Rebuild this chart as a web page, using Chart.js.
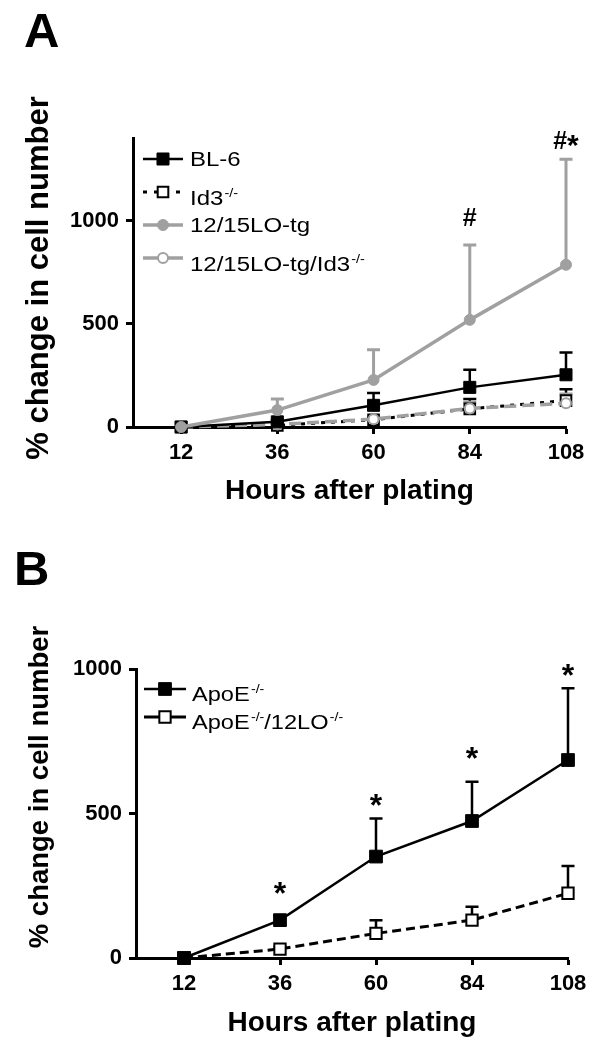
<!DOCTYPE html>
<html><head><meta charset="utf-8">
<script src="https://cdn.jsdelivr.net/npm/chart.js@4.4.1/dist/chart.umd.min.js"></script>
<style>
html,body{margin:0;padding:0;background:#fff;}
#wrap{position:relative;width:607px;height:1050px;overflow:hidden;background:#fff;}
canvas{position:absolute;left:0;}
#cA{top:0}
#cB{top:525px}
.lbl{position:absolute;font:bold 49px "Liberation Sans",Arial,sans-serif;line-height:49px;color:#000;}
</style></head><body>
<div id="wrap">
<canvas id="cA" width="607" height="525"></canvas>
<canvas id="cB" width="607" height="525"></canvas>
<div class="lbl" style="left:24px;top:6px">A</div>
<div class="lbl" style="left:14px;top:544px">B</div>
</div>
<script>
// ---------- data ----------
const hours = [12, 36, 60, 84, 108];
const yTicksA = [0, 500, 1000];
const yTicksB = [0, 500, 1000];

// Panel A
const namesA = ['BL-6', 'Id3<sup>-/-</sup>', '12/15LO-tg', '12/15LO-tg/Id3<sup>-/-</sup>'];
const bl6        = [0, 25, 105, 192, 253];
const bl6Err     = [0, 10, 60, 85, 108];
const id3        = [0, 8, 35, 88, 128];
const id3Err     = [0, 5, 12, 48, 55];
const loTg       = [0, 82, 228, 519, 786];
const loTgErr    = [0, 54, 146, 363, 511];
const loTgId3    = [0, 12, 38, 90, 115];
const loTgId3Err = [0, 5, 10, 30, 45];
const marksA     = ['', '', '', '#', '#*'];
const markLevelA = [null, null, null, 1018, 1391];

// Panel B
const namesB = ['ApoE<sup>-/-</sup>', 'ApoE<sup>-/-</sup>/12LO<sup>-/-</sup>'];
const apoE      = [0, 131, 351, 474, 685];
const apoEErr   = [0, 15, 132, 136, 248];
const apoE12    = [0, 31, 85, 131, 224];
const apoE12Err = [0, 8, 46, 46, 94];
const marksB     = ['', '*', '*', '*', '*'];
const markLevelB = [null, 246, 550, 713, 1000];

// ---------- helpers ----------
const FONT = '"Liberation Sans", Arial, Helvetica, sans-serif';
const GREY = '#a0a0a0';
const pts = arr => arr.map((v, i) => ({x: hours[i], y: v}));

function drawMarker(ctx, ds, x, y) {
  ctx.save();
  ctx.setLineDash([]);
  ctx.lineWidth = ds.pointBorderWidth;
  ctx.strokeStyle = ds.pointBorderColor;
  ctx.fillStyle = ds.pointBackgroundColor;
  const r = ds.pointRadius;
  ctx.beginPath();
  if (ds.pointStyle === 'rect') { const s = r * Math.SQRT1_2; ctx.rect(x - s, y - s, 2 * s, 2 * s); }
  else ctx.arc(x, y, r, 0, Math.PI * 2);
  ctx.fill(); ctx.stroke();
  ctx.restore();
}

function drawRich(ctx, text, x, y, size, stretch) {
  const parts = text.split(/(<sup>.*?<\/sup>)/).filter(Boolean);
  ctx.save();
  ctx.translate(x, y); ctx.scale(stretch, 1);
  ctx.fillStyle = '#000'; ctx.textBaseline = 'alphabetic'; ctx.textAlign = 'left';
  let cx = 0;
  parts.forEach(p => {
    const m = p.match(/^<sup>(.*)<\/sup>$/);
    if (m) {
      ctx.font = Math.round(size * 0.6) + 'px ' + FONT;
      ctx.fillText(m[1], cx + 1, -size * 0.42);
      cx += ctx.measureText(m[1]).width + 1;
    } else {
      ctx.font = size + 'px ' + FONT;
      ctx.fillText(p, cx, 0);
      cx += ctx.measureText(p).width;
    }
  });
  ctx.restore();
}

const errorBars = {
  id: 'errorBars',
  beforeDatasetsDraw(chart) {
    const {ctx, scales: {x, y}} = chart;
    chart.data.datasets.forEach(ds => {
      if (!ds.err) return;
      ctx.save();
      ctx.strokeStyle = ds.borderColor; ctx.lineWidth = ds.errWidth || 2.5; ctx.setLineDash([]);
      ds.data.forEach((p, j) => {
        const e = ds.err[j]; if (!e) return;
        const px = x.getPixelForValue(p.x), py = y.getPixelForValue(p.y), pt = y.getPixelForValue(p.y + e);
        ctx.beginPath();
        ctx.moveTo(px, py); ctx.lineTo(px, pt);
        ctx.moveTo(px - 6.5, pt); ctx.lineTo(px + 6.5, pt);
        ctx.stroke();
      });
      ctx.restore();
    });
  }
};

const extras = {
  id: 'extras',
  afterDraw(chart, args, o) {
    const {ctx, scales: {x, y}} = chart;
    // y-axis title
    ctx.save();
    ctx.translate(o.yTitle.cx, o.yTitle.cy); ctx.rotate(-Math.PI / 2);
    ctx.font = 'bold ' + o.yTitle.size + 'px ' + FONT;
    ctx.fillStyle = '#000'; ctx.textAlign = 'center'; ctx.textBaseline = 'middle';
    ctx.fillText(o.yTitle.text, 0, 0);
    ctx.restore();
    // significance marks
    o.marks.forEach((m, i) => {
      if (!m) return;
      const cy = y.getPixelForValue(o.levels[i]);
      const cxc = x.getPixelForValue(hours[i]);
      ctx.save();
      ctx.fillStyle = '#000'; ctx.textBaseline = 'alphabetic'; ctx.textAlign = 'left';
      const chars = m.split('');
      const sizes = chars.map(c => c === '*' ? o.starSize : o.hashSize);
      const widths = chars.map((c, k) => { ctx.font = 'bold ' + sizes[k] + 'px ' + FONT; return ctx.measureText(c).width; });
      let total = widths.reduce((a, b) => a + b, 0);
      let cx = cxc - total / 2;
      chars.forEach((c, k) => {
        ctx.font = 'bold ' + sizes[k] + 'px ' + FONT;
        const off = c === '*' ? 0.52 : 0.36;
        ctx.fillText(c, cx, cy + off * sizes[k]);
        cx += widths[k];
      });
      ctx.restore();
    });
    // legend
    const L = o.legend;
    chart.data.datasets.forEach((ds, i) => {
      const ym = L.y0 + L.step * i;
      ctx.save();
      ctx.strokeStyle = ds.borderColor; ctx.lineWidth = ds.borderWidth;
      ctx.setLineDash(ds.legendDash || []);
      ctx.beginPath(); ctx.moveTo(L.x0, ym); ctx.lineTo(L.x1, ym); ctx.stroke();
      ctx.restore();
      drawMarker(ctx, ds, (L.x0 + L.x1) / 2, ym);
      const hasSup = ds.label.indexOf('<sup>') >= 0;
      drawRich(ctx, ds.label, L.tx, ym + 0.358 * L.size + (hasSup ? L.supShift : 0), L.size, L.stretch);
    });
  }
};

function xAxis(scaleHeight, titleBottom) {
  return {
    type: 'linear', min: 0, max: 108,
    afterBuildTicks: s => { s.ticks = hours.map(v => ({value: v})); },
    afterFit: s => { s.height = scaleHeight; },
    grid: {drawOnChartArea: false, drawTicks: true, tickLength: 7, tickWidth: 3, color: '#000'},
    border: {display: true, color: '#000', width: 3},
    ticks: {color: '#000', padding: 6, autoSkip: false, maxRotation: 0, callback: v => String(v),
            font: {family: FONT, size: 22, weight: 'bold'}},
    title: {display: true, text: 'Hours after plating', color: '#000',
            font: {family: FONT, size: 28, weight: 'bold'}, padding: {top: 0, bottom: titleBottom}}
  };
}
function yAxis(max, ticks, width) {
  return {
    type: 'linear', min: 0, max: max,
    afterBuildTicks: s => { s.ticks = ticks.map(v => ({value: v})); },
    afterFit: s => { s.width = width; },
    grid: {drawOnChartArea: false, drawTicks: true, tickLength: 7, tickWidth: 3, color: '#000'},
    border: {display: true, color: '#000', width: 3},
    ticks: {color: '#000', padding: 7, callback: v => String(v),
            font: {family: FONT, size: 22, weight: 'bold'}}
  };
}

Chart.defaults.font.family = FONT;

// ---------- Panel A ----------
new Chart(document.getElementById('cA'), {
  type: 'line',
  data: {datasets: [
    {label: namesA[0], data: pts(bl6), err: bl6Err, borderColor: '#000', borderWidth: 2.5,
     pointStyle: 'rect', pointRadius: 8.5, pointBackgroundColor: '#000', pointBorderColor: '#000', pointBorderWidth: 1, errWidth: 2.5, order: 2},
    {label: namesA[1], data: pts(id3), err: id3Err, borderColor: '#000', borderWidth: 3, borderDash: [4, 6], legendDash: [4, 7],
     pointStyle: 'rect', pointRadius: 7.5, pointBackgroundColor: '#fff', pointBorderColor: '#000', pointBorderWidth: 2, errWidth: 2.5, order: 4},
    {label: namesA[2], data: pts(loTg), err: loTgErr, borderColor: GREY, borderWidth: 3.5,
     pointStyle: 'circle', pointRadius: 5.5, pointBackgroundColor: GREY, pointBorderColor: GREY, pointBorderWidth: 1, errWidth: 3, order: 1},
    {label: namesA[3], data: pts(loTgId3), err: loTgId3Err, borderColor: GREY, borderWidth: 3.5, borderDash: [12, 6],
     pointStyle: 'circle', pointRadius: 5, pointBackgroundColor: '#fff', pointBorderColor: GREY, pointBorderWidth: 2, errWidth: 3, order: 3}
  ]},
  options: {
    responsive: false, animation: false, devicePixelRatio: 1,
    layout: {padding: {top: 138, right: 41, bottom: 0, left: 0}},
    elements: {line: {tension: 0}},
    datasets: {line: {clip: false}},
    scales: {x: xAxis(98, 17), y: yAxis(1400, yTicksA, 133)},
    plugins: {
      legend: {display: false}, tooltip: {enabled: false},
      extras: {
        yTitle: {text: '% change in cell number', size: 31, cx: 39, cy: 278},
        marks: marksA, levels: markLevelA, hashSize: 25, starSize: 30,
        legend: {x0: 143, x1: 183, tx: 190, y0: 159, step: 33, size: 20, stretch: 1.2, supShift: 6}
      }
    }
  },
  plugins: [errorBars, extras]
});

// ---------- Panel B ----------
new Chart(document.getElementById('cB'), {
  type: 'line',
  data: {datasets: [
    {label: namesB[0], data: pts(apoE), err: apoEErr, borderColor: '#000', borderWidth: 2.5,
     pointStyle: 'rect', pointRadius: 9, pointBackgroundColor: '#000', pointBorderColor: '#000', pointBorderWidth: 1, errWidth: 2.5},
    {label: namesB[1], data: pts(apoE12), err: apoE12Err, borderColor: '#000', borderWidth: 3, borderDash: [9, 5], legendDash: [],
     pointStyle: 'rect', pointRadius: 8, pointBackgroundColor: '#fff', pointBorderColor: '#000', pointBorderWidth: 2, errWidth: 2.5}
  ]},
  options: {
    responsive: false, animation: false, devicePixelRatio: 1,
    layout: {padding: {top: 144, right: 39, bottom: 0, left: 0}},
    elements: {line: {tension: 0}},
    datasets: {line: {clip: false}},
    scales: {x: xAxis(92, 10), y: yAxis(1000, yTicksB, 136)},
    plugins: {
      legend: {display: false}, tooltip: {enabled: false},
      extras: {
        yTitle: {text: '% change in cell number', size: 27.5, cx: 40, cy: 262},
        marks: marksB, levels: markLevelB, hashSize: 25, starSize: 32,
        legend: {x0: 144, x1: 186, tx: 192, y0: 164, step: 28, size: 20, stretch: 1.18, supShift: 5}
      }
    }
  },
  plugins: [errorBars, extras]
});
</script>
</body></html>
